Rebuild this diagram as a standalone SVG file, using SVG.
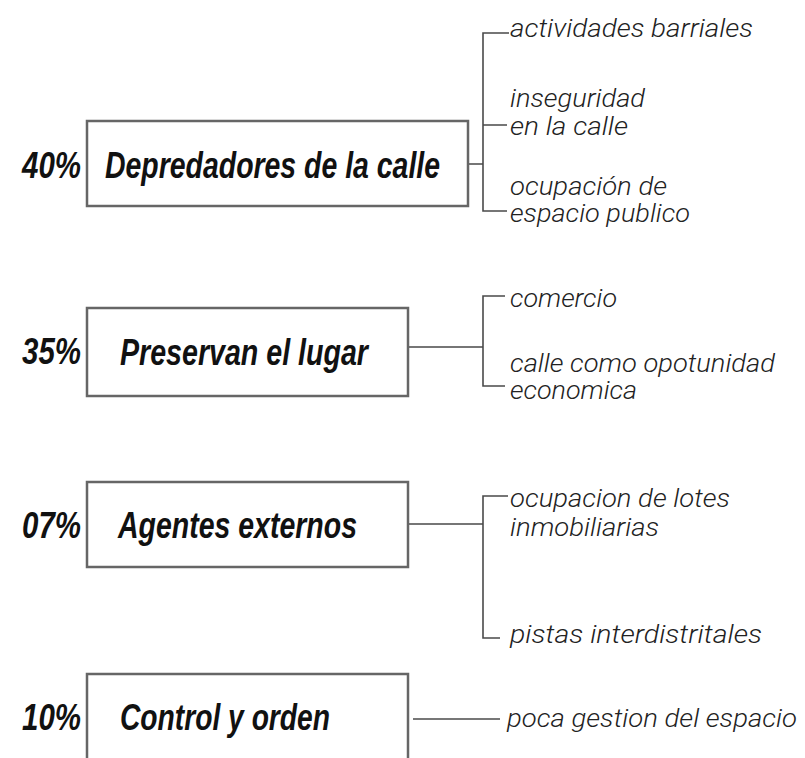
<svg xmlns="http://www.w3.org/2000/svg" width="805" height="758" viewBox="0 0 805 758">
  <style>
    .box { fill: #ffffff; stroke: #666666; stroke-width: 2.5; }
    .pct { font-family: "Liberation Sans Narrow", "Liberation Sans", "DejaVu Sans Condensed", sans-serif; font-weight: bold; font-style: italic; font-size: 37px; fill: #111111; }
    .lbl { font-family: "Liberation Sans Narrow", "Liberation Sans", "DejaVu Sans Condensed", sans-serif; font-weight: bold; font-style: italic; font-size: 37px; fill: #111111; }
    .item { font-family: Roboto, "Liberation Sans", "DejaVu Sans", sans-serif; font-weight: 300; font-style: italic; font-size: 26.5px; fill: #222222; }
    .conn { fill: none; stroke: #4a4a4a; stroke-width: 1.6; }
  </style>
  <rect width="805" height="758" fill="#ffffff"/>

  <g id="connectors">
    <path class="conn" d="M468,164 H483 M509,33 H483 V211 H507 M483,125 H507"/>
    <path class="conn" d="M408,347 H483 M505,296 H483 V386 H505"/>
    <path class="conn" d="M408,524 H483 M508,496 H483 V638 H500"/>
    <path class="conn" d="M413,719 H500"/>
  </g>

  <g id="node-depredadores">
    <text class="pct" x="22" y="178" textLength="59" lengthAdjust="spacingAndGlyphs">40%</text>
    <rect class="box" x="87" y="121" width="381" height="85"/>
    <text class="lbl" x="105" y="178" textLength="335" lengthAdjust="spacingAndGlyphs">Depredadores de la calle</text>
  </g>
  <g id="items-depredadores">
    <text class="item" x="510" y="37" textLength="243" lengthAdjust="spacingAndGlyphs">actividades barriales</text>
    <text class="item" x="510" y="107" textLength="135" lengthAdjust="spacingAndGlyphs">inseguridad</text>
    <text class="item" x="510" y="135" textLength="118" lengthAdjust="spacingAndGlyphs">en la calle</text>
    <text class="item" x="510" y="195" textLength="157" lengthAdjust="spacingAndGlyphs">ocupación de</text>
    <text class="item" x="510" y="222" textLength="180" lengthAdjust="spacingAndGlyphs">espacio publico</text>
  </g>

  <g id="node-preservan">
    <text class="pct" x="22" y="364" textLength="59" lengthAdjust="spacingAndGlyphs">35%</text>
    <rect class="box" x="87" y="308" width="321" height="88"/>
    <text class="lbl" x="120" y="365" textLength="248" lengthAdjust="spacingAndGlyphs">Preservan el lugar</text>
  </g>
  <g id="items-preservan">
    <text class="item" x="510" y="307" textLength="107" lengthAdjust="spacingAndGlyphs">comercio</text>
    <text class="item" x="510" y="372" textLength="265" lengthAdjust="spacingAndGlyphs">calle como opotunidad</text>
    <text class="item" x="510" y="399" textLength="127" lengthAdjust="spacingAndGlyphs">economica</text>
  </g>

  <g id="node-agentes">
    <text class="pct" x="22" y="538" textLength="59" lengthAdjust="spacingAndGlyphs">07%</text>
    <rect class="box" x="87" y="482" width="321" height="85"/>
    <text class="lbl" x="118" y="538" textLength="239" lengthAdjust="spacingAndGlyphs">Agentes externos</text>
  </g>
  <g id="items-agentes">
    <text class="item" x="510" y="507" textLength="220" lengthAdjust="spacingAndGlyphs">ocupacion de lotes</text>
    <text class="item" x="510" y="536" textLength="149" lengthAdjust="spacingAndGlyphs">inmobiliarias</text>
    <text class="item" x="510" y="643" textLength="252" lengthAdjust="spacingAndGlyphs">pistas interdistritales</text>
  </g>

  <g id="node-control">
    <text class="pct" x="22" y="730" textLength="59" lengthAdjust="spacingAndGlyphs">10%</text>
    <rect class="box" x="87" y="674" width="321" height="100"/>
    <text class="lbl" x="120" y="730" textLength="210" lengthAdjust="spacingAndGlyphs">Control y orden</text>
  </g>
  <g id="items-control">
    <text class="item" x="507" y="727" textLength="290" lengthAdjust="spacingAndGlyphs">poca gestion del espacio</text>
  </g>
</svg>
